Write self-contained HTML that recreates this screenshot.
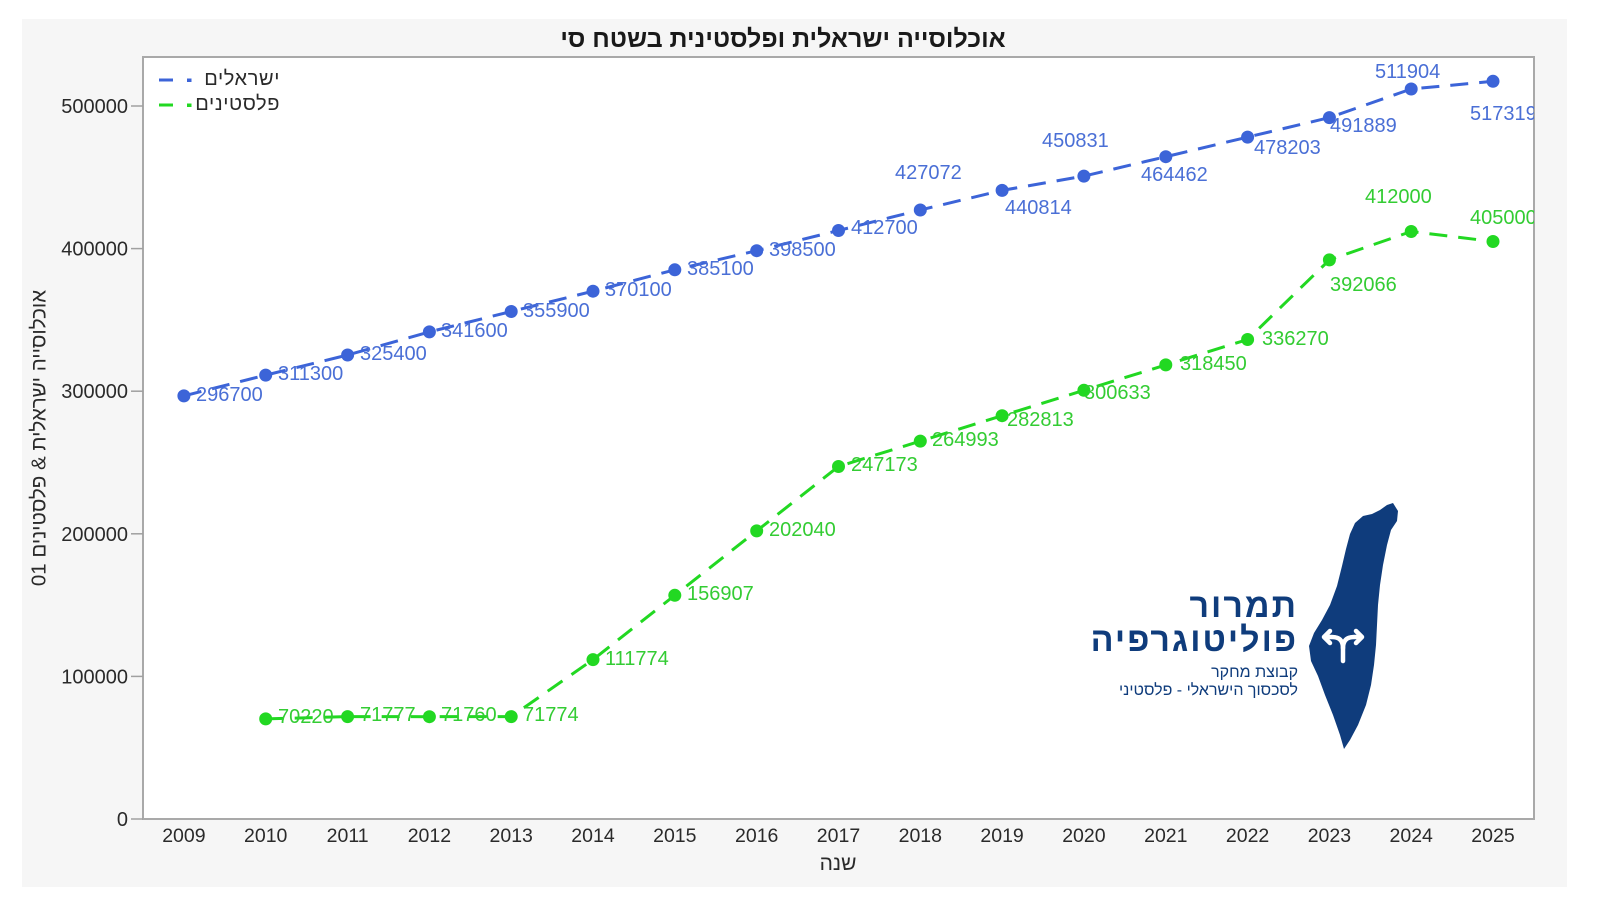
<!DOCTYPE html>
<html>
<head>
<meta charset="utf-8">
<style>
  html,body{margin:0;padding:0;background:#fff;}
  body{width:1600px;height:900px;position:relative;overflow:hidden;font-family:"Liberation Sans","DejaVu Sans",sans-serif;}
  svg{position:absolute;left:0;top:0;}
  .he{position:absolute;white-space:nowrap;direction:rtl;font-family:"Liberation Sans","DejaVu Sans",sans-serif;}
</style>
</head>
<body>
<svg width="1600" height="900" viewBox="0 0 1600 900" xmlns="http://www.w3.org/2000/svg">
  <defs>
    <clipPath id="pc"><rect x="143" y="57" width="1391" height="762"/></clipPath>
  </defs>
  <!-- panel -->
  <rect x="22" y="19" width="1545" height="868" fill="#f6f6f6"/>
  <!-- plot -->
  <rect x="143" y="57" width="1391" height="762" fill="#ffffff" stroke="#a9a9a9" stroke-width="2"/>

  <!-- y ticks -->
  <g stroke="#a0a0a0" stroke-width="1.5">
    <line x1="131" y1="819" x2="143" y2="819"/>
    <line x1="131" y1="676.4" x2="143" y2="676.4"/>
    <line x1="131" y1="533.8" x2="143" y2="533.8"/>
    <line x1="131" y1="391.2" x2="143" y2="391.2"/>
    <line x1="131" y1="248.6" x2="143" y2="248.6"/>
    <line x1="131" y1="106" x2="143" y2="106"/>
  </g>
  <g font-family="Liberation Sans, sans-serif" font-size="20" fill="#2a2a2a" text-anchor="end">
    <text x="128" y="826">0</text>
    <text x="128" y="683.4">100000</text>
    <text x="128" y="540.8">200000</text>
    <text x="128" y="398.2">300000</text>
    <text x="128" y="255.6">400000</text>
    <text x="128" y="113">500000</text>
  </g>
  <!-- x labels -->
  <g font-family="Liberation Sans, sans-serif" font-size="19.5" fill="#2a2a2a" text-anchor="middle">
    <text x="183.9" y="842">2009</text>
    <text x="265.7" y="842">2010</text>
    <text x="347.6" y="842">2011</text>
    <text x="429.4" y="842">2012</text>
    <text x="511.2" y="842">2013</text>
    <text x="593.0" y="842">2014</text>
    <text x="674.8" y="842">2015</text>
    <text x="756.7" y="842">2016</text>
    <text x="838.5" y="842">2017</text>
    <text x="920.3" y="842">2018</text>
    <text x="1002.1" y="842">2019</text>
    <text x="1083.9" y="842">2020</text>
    <text x="1165.8" y="842">2021</text>
    <text x="1247.6" y="842">2022</text>
    <text x="1329.4" y="842">2023</text>
    <text x="1411.2" y="842">2024</text>
    <text x="1493.0" y="842">2025</text>
  </g>

  <!-- logo map -->
  <path d="M1393,503 L1398,511 L1397,521 L1391,530 L1387,545 L1383,565 L1380,585 L1378,605 L1377,625 L1376,645 L1374,665 L1371,685 L1366,705 L1358,725 L1350,740 L1344,749 L1340,735 L1333,715 L1325,695 L1318,676 L1311,661 L1309,646 L1314,633 L1322,620 L1330,605 L1337,586 L1342,566 L1346,549 L1350,534 L1355,523 L1363,516 L1372,514 L1380,510 L1387,505 Z" fill="#0f3c7c"/>
  <g stroke="#ffffff" stroke-width="4.5" fill="none" stroke-linecap="round" stroke-linejoin="round">
    <path d="M1343,661 L1343,648 Q1343,637 1332,637 L1325,637"/>
    <path d="M1343,648 Q1343,637 1354,637 L1361,637"/>
    <path d="M1330,631 L1324,637 L1330,643"/>
    <path d="M1356,631 L1362,637 L1356,643"/>
  </g>

  <!-- legend -->
  <line x1="159" y1="80" x2="173" y2="80" stroke="#3c64d8" stroke-width="3"/>
  <rect x="187" y="78.5" width="4.5" height="3.5" fill="#3c64d8"/>
  <line x1="159" y1="105" x2="173" y2="105" stroke="#22d822" stroke-width="3"/>
  <rect x="187" y="103.5" width="4.5" height="3.5" fill="#22d822"/>

  <g clip-path="url(#pc)">
    <!-- blue series -->
    <polyline fill="none" stroke="#3c64d8" stroke-width="3" stroke-dasharray="18 11"
      points="183.9,395.9 265.7,375.1 347.6,355.0 429.4,331.9 511.2,311.5 593.0,291.2 674.8,269.8 756.7,250.7 838.5,230.5 920.3,210.0 1002.1,190.4 1083.9,176.1 1165.8,156.7 1247.6,137.1 1329.4,117.6 1411.2,89.0 1493.0,81.3"/>
    <g fill="#3c64d8">
      <circle cx="183.9" cy="395.9" r="6.5"/>
      <circle cx="265.7" cy="375.1" r="6.5"/>
      <circle cx="347.6" cy="355.0" r="6.5"/>
      <circle cx="429.4" cy="331.9" r="6.5"/>
      <circle cx="511.2" cy="311.5" r="6.5"/>
      <circle cx="593.0" cy="291.2" r="6.5"/>
      <circle cx="674.8" cy="269.8" r="6.5"/>
      <circle cx="756.7" cy="250.7" r="6.5"/>
      <circle cx="838.5" cy="230.5" r="6.5"/>
      <circle cx="920.3" cy="210.0" r="6.5"/>
      <circle cx="1002.1" cy="190.4" r="6.5"/>
      <circle cx="1083.9" cy="176.1" r="6.5"/>
      <circle cx="1165.8" cy="156.7" r="6.5"/>
      <circle cx="1247.6" cy="137.1" r="6.5"/>
      <circle cx="1329.4" cy="117.6" r="6.5"/>
      <circle cx="1411.2" cy="89.0" r="6.5"/>
      <circle cx="1493.0" cy="81.3" r="6.5"/>
    </g>
    <g font-family="Liberation Sans, sans-serif" font-size="20" fill="#4a6fd6">
      <text x="196" y="401">296700</text>
      <text x="278" y="380">311300</text>
      <text x="360" y="360">325400</text>
      <text x="441" y="337">341600</text>
      <text x="523" y="317">355900</text>
      <text x="605" y="296">370100</text>
      <text x="687" y="275">385100</text>
      <text x="769" y="256">398500</text>
      <text x="851" y="234">412700</text>
      <text x="895" y="179">427072</text>
      <text x="1005" y="214">440814</text>
      <text x="1042" y="147">450831</text>
      <text x="1141" y="181">464462</text>
      <text x="1254" y="154">478203</text>
      <text x="1330" y="132">491889</text>
      <text x="1375" y="78">511904</text>
      <text x="1470" y="120">517319</text>
    </g>

    <!-- green series -->
    <polyline fill="none" stroke="#22d822" stroke-width="3" stroke-dasharray="18 11"
      points="265.7,718.9 347.6,716.6 429.4,716.7 511.2,716.6 593.0,659.6 674.8,595.3 756.7,530.9 838.5,466.5 920.3,441.1 1002.1,415.7 1083.9,390.3 1165.8,364.9 1247.6,339.5 1329.4,259.9 1411.2,231.5 1493.0,241.5"/>
    <g fill="#22d822">
      <circle cx="265.7" cy="718.9" r="6.5"/>
      <circle cx="347.6" cy="716.6" r="6.5"/>
      <circle cx="429.4" cy="716.7" r="6.5"/>
      <circle cx="511.2" cy="716.6" r="6.5"/>
      <circle cx="593.0" cy="659.6" r="6.5"/>
      <circle cx="674.8" cy="595.3" r="6.5"/>
      <circle cx="756.7" cy="530.9" r="6.5"/>
      <circle cx="838.5" cy="466.5" r="6.5"/>
      <circle cx="920.3" cy="441.1" r="6.5"/>
      <circle cx="1002.1" cy="415.7" r="6.5"/>
      <circle cx="1083.9" cy="390.3" r="6.5"/>
      <circle cx="1165.8" cy="364.9" r="6.5"/>
      <circle cx="1247.6" cy="339.5" r="6.5"/>
      <circle cx="1329.4" cy="259.9" r="6.5"/>
      <circle cx="1411.2" cy="231.5" r="6.5"/>
      <circle cx="1493.0" cy="241.5" r="6.5"/>
    </g>
    <g font-family="Liberation Sans, sans-serif" font-size="20" fill="#33cc33">
      <text x="278" y="723">70220</text>
      <text x="360" y="721">71777</text>
      <text x="441" y="721">71760</text>
      <text x="523" y="721">71774</text>
      <text x="605" y="665">111774</text>
      <text x="687" y="600">156907</text>
      <text x="769" y="536">202040</text>
      <text x="851" y="471">247173</text>
      <text x="932" y="446">264993</text>
      <text x="1007" y="426">282813</text>
      <text x="1084" y="399">300633</text>
      <text x="1180" y="370">318450</text>
      <text x="1262" y="345">336270</text>
      <text x="1330" y="291">392066</text>
      <text x="1365" y="203">412000</text>
      <text x="1470" y="224">405000</text>
    </g>
  </g>
</svg>

<!-- title -->
<div class="he" style="left:783px;top:24px;transform:translateX(-50%);font-size:25px;font-weight:bold;color:#1a1a1a;line-height:30px;">אוכלוסייה ישראלית ופלסטינית בשטח סי</div>

<!-- legend text -->
<div class="he" style="right:1320px;top:67px;font-size:20px;letter-spacing:0.6px;color:#2a2a2a;line-height:25px;">ישראלים</div>
<div class="he" style="right:1320px;top:92px;font-size:20px;letter-spacing:0.6px;color:#2a2a2a;line-height:25px;">פלסטינים</div>

<!-- y axis title -->
<div class="he" style="left:39px;top:438px;transform:translate(-50%,-50%) rotate(-90deg);font-size:20.5px;color:#2a2a2a;line-height:25px;">אוכלוסייה ישראלית &amp; פלסטינים 01</div>

<!-- x axis title -->
<div class="he" style="left:838px;top:851px;transform:translateX(-50%);font-size:21px;color:#2a2a2a;line-height:26px;">שנה</div>

<!-- logo text -->
<div class="he" style="right:302px;top:587px;font-size:34px;letter-spacing:2px;font-weight:bold;color:#0f3c7c;line-height:38px;">תמרור</div>
<div class="he" style="right:302px;top:621px;font-size:34px;letter-spacing:2px;font-weight:bold;color:#0f3c7c;line-height:38px;">פוליטוגרפיה</div>
<div class="he" style="right:302px;top:663px;font-size:16px;color:#0f3c7c;line-height:20px;">קבוצת מחקר</div>
<div class="he" style="right:302px;top:681px;font-size:16px;color:#0f3c7c;line-height:20px;">לסכסוך הישראלי - פלסטיני</div>
</body>
</html>
